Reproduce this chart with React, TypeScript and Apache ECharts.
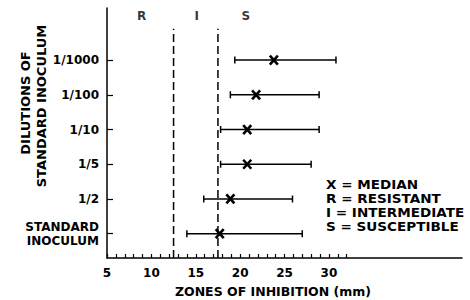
import React, { useEffect, useRef } from "react";
import * as echarts from "echarts";

const categories = ["STANDARD\nINOCULUM", "1/2", "1/5", "1/10", "1/100", "1/1000"];
const lowValues = [14.0, 15.9, 17.8, 17.8, 18.9, 19.4];
const medianValues = [17.7, 18.9, 20.8, 20.8, 21.8, 23.8];
const highValues = [27.0, 25.9, 28.0, 28.9, 28.9, 30.8];
const xTickLabels = [5, 10, 15, 20, 25, 30];
const xMinorTicks = [5, 6, 7, 8, 9, 10, 11, 12, 13, 14, 15, 16, 17, 18, 19, 20, 21, 22, 23, 24, 25, 26, 27, 28, 29, 30, 31, 32];
const yTicks = [0, 1, 2, 3, 4, 5];
const boundaries = [12.5, 17.5];
const regionLabels = ["R", "I", "S"];
const regionX = [8.9, 15.1, 20.65];
const legendLines = ["X = MEDIAN", "R = RESISTANT", "I = INTERMEDIATE", "S = SUSCEPTIBLE"];

const FONT = "DejaVu Sans";

export default function App() {
  const ref = useRef<HTMLDivElement>(null);
  useEffect(() => {
    const chart = echarts.init(ref.current!, null, { renderer: "svg" });
    const barData = categories.map((_, i) => [i, lowValues[i], medianValues[i], highValues[i]]);
    const option: any = {
      animation: false,
      backgroundColor: "#ffffff",
      grid: { left: 107, right: 8, top: 8, bottom: 42 },
      xAxis: {
        type: "value",
        min: 5,
        max: 45,
        axisLine: { show: true, onZero: false, lineStyle: { color: "#000", width: 1.5 } },
        axisTick: { show: true, inside: true, length: 4, customValues: xMinorTicks, lineStyle: { color: "#000", width: 1.2 } },
        axisLabel: { customValues: xTickLabels, color: "#000", fontFamily: FONT, fontWeight: "bold", fontSize: 12, margin: 9 },
        splitLine: { show: false },
      },
      yAxis: {
        type: "value",
        min: -0.7,
        max: 6.5,
        axisLine: { show: true, onZero: false, lineStyle: { color: "#000", width: 1.5 } },
        axisTick: { show: true, inside: true, length: 6, customValues: yTicks, lineStyle: { color: "#000", width: 1.2 } },
        axisLabel: {
          customValues: yTicks,
          formatter: (v: number) => categories[Math.round(v)] ?? "",
          color: "#000",
          fontFamily: FONT,
          fontWeight: "bold",
          fontSize: 12,
          lineHeight: 14,
          margin: 8,
          align: "right",
        },
        splitLine: { show: false },
      },
      series: [
        ...boundaries.map((b) => ({
          type: "line",
          data: [[b, -0.7], [b, 5.9]],
          symbol: "none",
          lineStyle: { color: "#000", width: 1.5, type: [8, 4] },
          silent: true,
        })),
        {
          type: "scatter",
          data: regionLabels.map((n, i) => ({ name: n, value: [regionX[i], 6.27] })),
          symbolSize: 0,
          label: {
            show: true,
            position: "inside",
            formatter: (p: any) => p.name,
            color: "#000",
            fontFamily: FONT,
            fontWeight: "bold",
            fontSize: 12,
          },
        },
        {
          type: "custom",
          data: barData,
          encode: { x: [1, 2, 3], y: 0 },
          renderItem: (params: any, api: any) => {
            const idx = api.value(0);
            const pL = api.coord([api.value(1), idx]);
            const pM = api.coord([api.value(2), idx]);
            const pH = api.coord([api.value(3), idx]);
            const s = { stroke: "#000", lineWidth: 1.5 };
            const xs = { stroke: "#000", lineWidth: 2.6 };
            const cw = 3.5;
            const hx = 4;
            const hy = 4.5;
            return {
              type: "group",
              children: [
                { type: "line", shape: { x1: pL[0], y1: pL[1], x2: pH[0], y2: pH[1] }, style: s },
                { type: "line", shape: { x1: pL[0], y1: pL[1] - cw, x2: pL[0], y2: pL[1] + cw }, style: s },
                { type: "line", shape: { x1: pH[0], y1: pH[1] - cw, x2: pH[0], y2: pH[1] + cw }, style: s },
                { type: "line", shape: { x1: pM[0] - hx, y1: pM[1] - hy, x2: pM[0] + hx, y2: pM[1] + hy }, style: xs },
                { type: "line", shape: { x1: pM[0] - hx, y1: pM[1] + hy, x2: pM[0] + hx, y2: pM[1] - hy }, style: xs },
              ],
            };
          },
        },
      ],
      graphic: [
        {
          type: "text",
          x: 25,
          y: 103,
          rotation: Math.PI / 2,
          style: { text: "DILUTIONS OF", fontFamily: FONT, fontWeight: "bold", fontSize: 13, fill: "#000", textAlign: "center", textVerticalAlign: "middle" },
        },
        {
          type: "text",
          x: 41,
          y: 106,
          rotation: Math.PI / 2,
          style: { text: "STANDARD INOCULUM", fontFamily: FONT, fontWeight: "bold", fontSize: 13, fill: "#000", textAlign: "center", textVerticalAlign: "middle" },
        },
        {
          type: "text",
          x: 273,
          y: 291,
          style: { text: "ZONES OF INHIBITION (mm)", fontFamily: FONT, fontWeight: "bold", fontSize: 12.5, fill: "#000", textAlign: "center", textVerticalAlign: "middle" },
        },
        ...legendLines.map((t, i) => ({
          type: "text",
          x: 326,
          y: 185 + i * 14,
          scaleX: 1.18,
          style: { text: t, fontFamily: FONT, fontWeight: "bold", fontSize: 11.5, fill: "#000", textAlign: "left", textVerticalAlign: "middle" },
        })),
      ],
    };
    chart.setOption(option);
    return () => chart.dispose();
  }, []);
  return <div ref={ref} style={{ width: 470, height: 300, position: "absolute", left: 0, top: 0 }} />;
}
